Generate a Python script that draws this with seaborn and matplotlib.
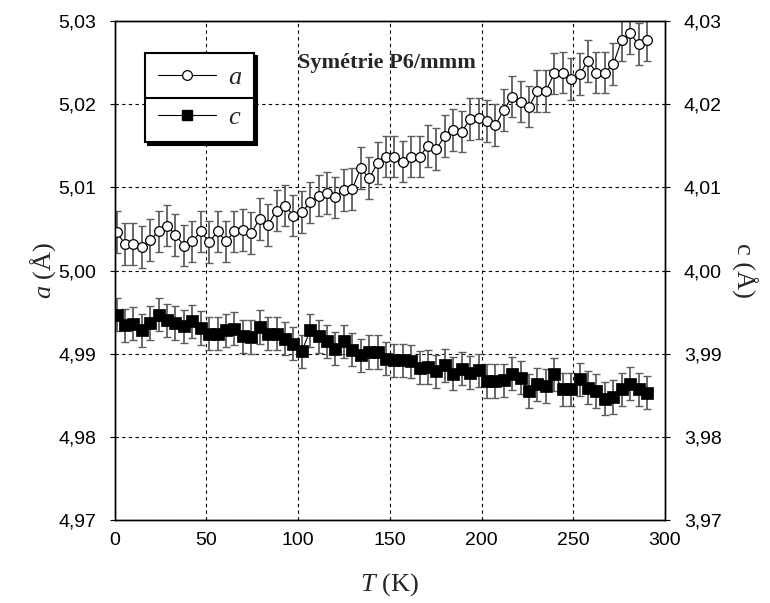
import matplotlib
matplotlib.use("Agg")
import matplotlib.pyplot as plt
import seaborn as sns
from matplotlib.lines import Line2D
from matplotlib.ticker import FuncFormatter, MultipleLocator

# temperatures (K)
T = [1.0, 5.6, 10.2, 14.8, 19.4, 24.0, 28.5, 33.1, 37.7, 42.3, 46.9, 51.5, 56.1,
     60.7, 65.3, 69.9, 74.4, 79.0, 83.6, 88.2, 92.8, 97.4, 102.0, 106.6, 111.2,
     115.8, 120.3, 124.9, 129.5, 134.1, 138.7, 143.3, 147.9, 152.5, 157.1, 161.7,
     166.2, 170.8, 175.4, 180.0, 184.6, 189.2, 193.8, 198.4, 203.0, 207.6, 212.1,
     216.7, 221.3, 225.9, 230.5, 235.1, 239.7, 244.3, 248.9, 253.5, 258.0, 262.6,
     267.2, 271.8, 276.4, 281.0, 285.6, 290.2]

# parametre a (A)
a = [5.0046, 5.0032, 5.0032, 5.0028, 5.0037, 5.0047, 5.0054, 5.0043, 5.0030,
     5.0035, 5.0047, 5.0034, 5.0047, 5.0035, 5.0047, 5.0049, 5.0045, 5.0062,
     5.0055, 5.0072, 5.0078, 5.0066, 5.0070, 5.0082, 5.0090, 5.0093, 5.0088,
     5.0097, 5.0098, 5.0123, 5.0111, 5.0129, 5.0137, 5.0137, 5.0131, 5.0137,
     5.0137, 5.0150, 5.0146, 5.0162, 5.0169, 5.0167, 5.0182, 5.0183, 5.0180,
     5.0175, 5.0193, 5.0209, 5.0203, 5.0197, 5.0216, 5.0216, 5.0237, 5.0238,
     5.0230, 5.0236, 5.0252, 5.0238, 5.0238, 5.0248, 5.0277, 5.0285, 5.0272,
     5.0277]

# parametre c (A)
c = [3.9947, 3.9934, 3.9936, 3.9928, 3.9937, 3.9947, 3.9940, 3.9937, 3.9933,
     3.9939, 3.9931, 3.9924, 3.9924, 3.9928, 3.9930, 3.9921, 3.9920, 3.9932,
     3.9924, 3.9924, 3.9918, 3.9912, 3.9903, 3.9928, 3.9921, 3.9915, 3.9906,
     3.9915, 3.9905, 3.9898, 3.9902, 3.9902, 3.9894, 3.9892, 3.9892, 3.9891,
     3.9883, 3.9884, 3.9879, 3.9886, 3.9876, 3.9882, 3.9877, 3.9880, 3.9867,
     3.9867, 3.9868, 3.9876, 3.9871, 3.9855, 3.9863, 3.9861, 3.9875, 3.9857,
     3.9857, 3.9869, 3.9859, 3.9855, 3.9846, 3.9848, 3.9857, 3.9864, 3.9857,
     3.9853]

a_err = 0.0025
c_err = 0.002

sns.set_style("white")
plt.rcParams['font.family'] = ['Liberation Sans', 'DejaVu Sans']
plt.rcParams['mathtext.fontset'] = 'custom'
plt.rcParams['mathtext.rm'] = 'Liberation Serif'
plt.rcParams['mathtext.it'] = 'Liberation Serif:italic'

fig = plt.figure(figsize=(7.7, 6.03), dpi=100)
ax = fig.add_axes([0.149, 0.1376, 0.7146, 0.8276])
ax2 = ax.twinx()

# a : cercles ouverts
eb = ax.errorbar(T, a, yerr=a_err, fmt='none', ecolor='#5e5e5e', elinewidth=1.3,
                 capsize=3.2, capthick=1.0, zorder=2)
for cap in eb[1]:
    cap.set_color('black')
sns.lineplot(x=T, y=a, ax=ax, color='black', lw=0.8, marker='o', markersize=7,
             markerfacecolor='white', markeredgecolor='black', markeredgewidth=0.9,
             zorder=3)

# c : carres pleins
eb2 = ax2.errorbar(T, c, yerr=c_err, fmt='none', ecolor='#5e5e5e', elinewidth=1.3,
                   capsize=3.2, capthick=1.0, zorder=2)
for cap in eb2[1]:
    cap.set_color('black')
sns.lineplot(x=T, y=c, ax=ax2, color='black', lw=0.8, marker='s', markersize=8,
             markerfacecolor='black', markeredgecolor='black', markeredgewidth=0.5,
             zorder=3)

ax.set_xlim(0, 300)
ax.set_ylim(4.97, 5.03)
ax2.set_ylim(3.97, 4.03)
ax.xaxis.set_major_locator(MultipleLocator(50))
ax.yaxis.set_major_locator(MultipleLocator(0.01))
ax2.yaxis.set_major_locator(MultipleLocator(0.01))
fmt = FuncFormatter(lambda v, p: f'{v:.2f}'.replace('.', ','))
ax.yaxis.set_major_formatter(fmt)
ax2.yaxis.set_major_formatter(fmt)

ax.grid(True, color='black', linestyle=(0, (3, 3)), linewidth=0.8)
for axx in (ax, ax2):
    for s in axx.spines.values():
        s.set_color('black')
        s.set_linewidth(1.0)
ax.tick_params(axis='x', labelsize=14, pad=5, colors='black')
ax.tick_params(axis='y', labelsize=14, pad=10, colors='black')
ax2.tick_params(axis='y', labelsize=14, pad=10, colors='black')

ax.set_xlabel(r'$\mathit{T}$ (K)', family='Liberation Serif', fontsize=19, labelpad=16)
ax.set_ylabel(r'$\mathit{a}$ (Å)', family='Liberation Serif', fontsize=19, labelpad=0)
ax2.set_ylabel('c (Å)', family='Liberation Serif', fontsize=19, rotation=270, labelpad=26)

ax.text(0.333, 0.9165, 'Symétrie P6/mmm', transform=ax.transAxes, ha='left',
        va='center', family='Liberation Serif', fontweight='bold', fontsize=16,
        zorder=5)

handles = [
    Line2D([], [], color='black', lw=0.8, marker='o', markersize=7,
           markerfacecolor='white', markeredgecolor='black', markeredgewidth=0.9),
    Line2D([], [], color='black', lw=0.8, marker='s', markersize=7.5,
           markerfacecolor='black', markeredgecolor='black'),
]
leg = ax2.legend(handles, ['a', 'c'], loc='upper left', bbox_to_anchor=(0.0545, 0.9365),
                 borderaxespad=0, fancybox=False, framealpha=1, edgecolor='black',
                 prop={'family': 'Liberation Serif', 'style': 'italic', 'size': 19},
                 handlelength=2.2, handletextpad=0.45, borderpad=0.5,
                 labelspacing=0.62, shadow={'color': 'black', 'alpha': 1, 'ox': 2.2, 'oy': -2.2})
leg.get_frame().set_linewidth(1.5)
leg.set_zorder(10)

# trait de separation entre les deux entrees
fig.canvas.draw()
bb = leg.get_window_extent().transformed(fig.transFigure.inverted())
ymid = (bb.y0 + bb.y1) / 2
fig.lines.append(Line2D([bb.x0, bb.x1], [ymid, ymid], transform=fig.transFigure,
                        color='black', lw=1.5, zorder=20))

plt.savefig("out.png", dpi=100)
